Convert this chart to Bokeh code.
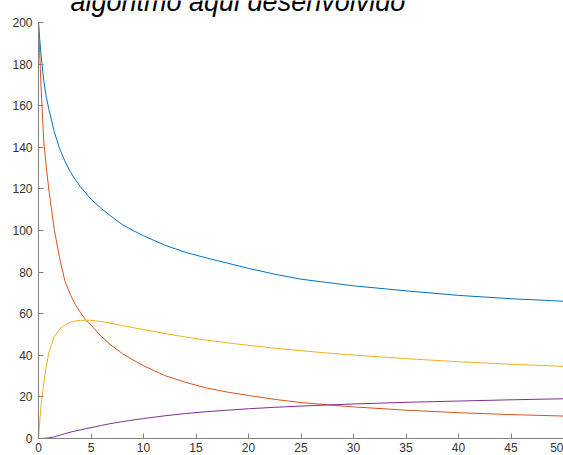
from bokeh.plotting import figure
from bokeh.models import Range1d, FixedTicker, Label
from bokeh.embed import file_html
from bokeh.resources import INLINE

# ---- data ----
t = [0, 0.1, 0.25, 0.5, 0.75, 1, 1.5, 2, 2.5, 3, 3.5, 4, 4.5, 5, 6, 7, 8, 9, 10,
     12, 14, 16, 18, 20, 22.5, 25, 27.5, 30, 35, 40, 45, 50]

total = [200, 193, 184, 172, 164, 158, 147.5, 139.5, 133.5, 128.5, 124.5, 121, 118, 115,
         110.5, 106.5, 102.8, 100, 97.5, 93, 89.5, 86.8, 84.3, 81.8, 79, 76.6, 75,
         73.4, 71, 68.8, 67.2, 66]

central = [200, 187, 168, 143, 130, 119, 100.5, 87, 76, 69.5, 64.5, 60.5, 57, 54.5,
           49, 44.5, 40.8, 37.8, 35, 30.3, 27, 24.3, 22.3, 20.7, 18.8, 17.3, 16.2,
           15.2, 13.6, 12.4, 11.5, 10.8]

peripheral1 = [0, 7, 16, 26.5, 35, 41.5, 49, 52.5, 54.5, 55.8, 56.5, 56.8, 56.9, 56.8,
               56.2, 55.3, 54.3, 53.3, 52.4, 50.5, 48.8, 47.3, 46, 44.8, 43.4, 42.2,
               41.1, 40.1, 38.4, 36.9, 35.7, 34.7]

peripheral2 = [0, 0, 0.02, 0.1, 0.2, 0.35, 0.8, 1.5, 2.3, 3.0, 3.6, 4.2, 4.7, 5.2,
               6.3, 7.3, 8.1, 8.9, 9.6, 10.9, 12.0, 12.9, 13.6, 14.3, 15.0, 15.6,
               16.1, 16.6, 17.4, 18.0, 18.6, 19.1]

x_ticks = [0, 5, 10, 15, 20, 25, 30, 35, 40, 45, 50]
y_ticks = [0, 20, 40, 60, 80, 100, 120, 140, 160, 180, 200]
title_text = "algoritmo aqui desenvolvido"

colors = ["#0072BD", "#D95319", "#EDB120", "#7E2F8E"]

# the visible frame reaches the top of the picture; the axis itself stops at 200
Y_TOP = 200 * 438 / 416

p = figure(width=563, height=455, output_backend="svg", toolbar_location=None,
           x_range=Range1d(0, 50), y_range=Range1d(0, Y_TOP),
           min_border_left=38, min_border_right=0, min_border_top=0,
           min_border_bottom=17)
p.grid.visible = False
p.outline_line_color = None
p.background_fill_color = "white"
p.border_fill_color = "white"

for series, c in zip([total, central, peripheral1, peripheral2], colors):
    p.line(t, series, line_color=c, line_width=1)

for ax in (p.xaxis[0], p.yaxis[0]):
    ax.axis_line_color = "#808080"
    ax.major_tick_line_color = "#808080"
    ax.major_tick_in = 5
    ax.major_tick_out = 0
    ax.minor_tick_line_color = None
    ax.major_label_text_color = "#333333"
    ax.major_label_text_font = "Liberation Sans"
    ax.major_label_text_font_size = "12px"

p.xaxis.ticker = FixedTicker(ticks=x_ticks)
p.yaxis.ticker = FixedTicker(ticks=y_ticks)
p.yaxis.bounds = (0, 200)
p.xaxis.major_label_standoff = 4
p.yaxis.major_label_standoff = 6

# title: only its lower part is visible in the reference (cropped at the top)
title = Label(x=32, y=437, x_units="screen", y_units="screen", text=title_text,
              text_font="Liberation Sans", text_font_style="italic",
              text_font_size="27px", text_color="#000000",
              text_baseline="alphabetic", text_align="left")
p.add_layout(title)

open("out.html", "w").write(file_html(p, INLINE))
